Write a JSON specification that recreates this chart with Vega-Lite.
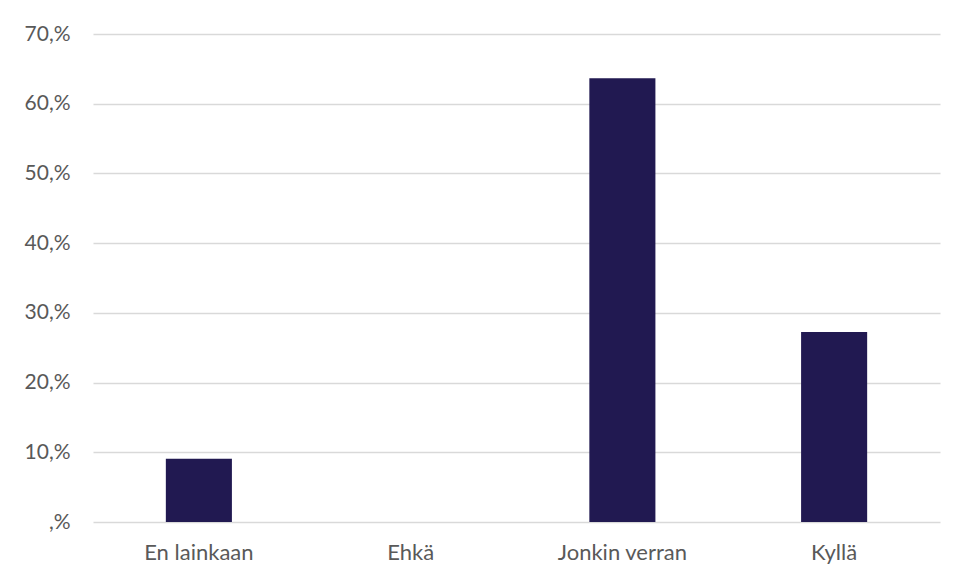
{
  "$schema": "https://vega.github.io/schema/vega-lite/v6.json",
  "width": 847,
  "height": 488,
  "autosize": {"type": "none"},
  "padding": {"left": 93, "top": 34, "right": 17, "bottom": 58},
  "background": "white",
  "config": {"view": {"stroke": null}, "font": "Lato"},
  "data": {"values": [
    {"category": "En lainkaan", "value": 9.09},
    {"category": "Ehkä", "value": 0},
    {"category": "Jonkin verran", "value": 63.64},
    {"category": "Kyllä", "value": 27.27}
  ]},
  "mark": {"type": "bar", "color": "#211951"},
  "encoding": {
    "x": {
      "field": "category", "type": "nominal", "sort": null,
      "scale": {"paddingInner": 0.688, "paddingOuter": 0.344},
      "axis": {"title": null, "labelAngle": 0, "ticks": false, "domain": false,
        "labelFontSize": 22, "labelColor": "#595959", "labelPadding": 20, "labelFont": "Lato"}
    },
    "y": {
      "field": "value", "type": "quantitative",
      "scale": {"domain": [0, 70], "nice": false},
      "axis": {"title": null, "values": [0, 10, 20, 30, 40, 50, 60, 70],
        "labelExpr": "datum.value == 0 ? ',%' : datum.value + ',%'",
        "ticks": false, "domain": false, "grid": true, "gridColor": "#d9d9d9", "gridWidth": 1.5,
        "labelFontSize": 21, "labelColor": "#595959", "labelPadding": 23, "labelFont": "Lato"}
    }
  }
}
